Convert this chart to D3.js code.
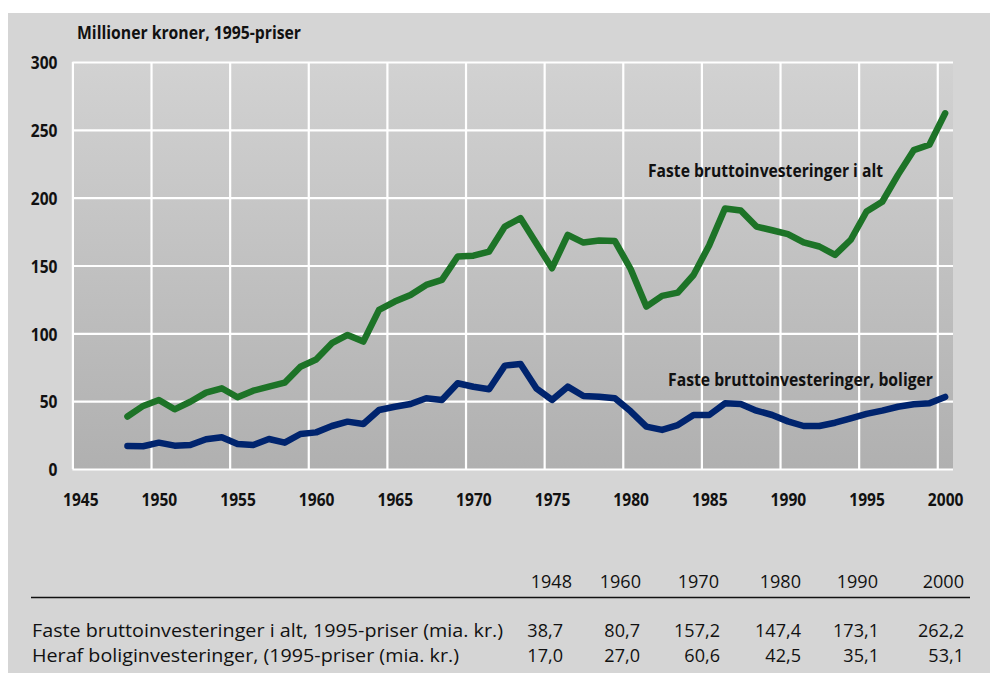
<!DOCTYPE html>
<html>
<head>
<meta charset="utf-8">
<script src="https://cdn.jsdelivr.net/npm/d3@7"></script>
<style>
body{margin:0;background:#fff}
svg text{font-family:"Open Sans",sans-serif;fill:#111}
</style>
</head>
<body>
<svg id="chart" width="997" height="673"></svg>
<script>
// data, one value per year from 1948
const firstYear = 1948
const totalInv = [38.7, 46.5, 50.9, 44.0, 49.6, 56.3, 59.5, 52.9, 57.7, 60.7,
    63.6, 75.4, 80.7, 92.7, 98.8, 93.9, 117.3, 123.4, 128.3, 135.7,
    139.4, 156.6, 157.2, 160.3, 178.7, 184.9, 166.4, 148.0, 172.6, 166.9,
    168.4, 168.0, 147.4, 119.7, 127.6, 130.0, 143.0, 165.0, 192.0, 190.5,
    178.7, 176.0, 173.1, 167.0, 164.0, 157.8, 169.0, 189.8, 197.0, 216.8,
    235.0, 239.0, 262.2]
const housingInv = [17.0, 16.8, 19.4, 17.2, 17.7, 21.9, 23.4, 18.4, 17.7, 22.1,
    19.4, 25.8, 27.0, 31.7, 34.9, 33.2, 43.5, 45.9, 47.9, 52.1,
    50.9, 63.2, 60.6, 58.8, 76.2, 77.4, 59.5, 50.9, 60.7, 53.8,
    53.3, 52.1, 42.5, 31.2, 28.8, 32.4, 39.8, 39.8, 48.4, 47.9,
    43.0, 39.8, 35.1, 31.7, 31.7, 34.1, 37.4, 40.6, 43.0, 45.9,
    47.7, 48.4, 53.1]
const xTickYears = [1945, 1950, 1955, 1960, 1965, 1970, 1975, 1980, 1985, 1990, 1995, 2000]
const yTickValues = [0, 50, 100, 150, 200, 250, 300]
const seriesNames = ['Faste bruttoinvesteringer i alt', 'Faste bruttoinvesteringer, boliger']
const yTitle = 'Millioner kroner, 1995-priser'

// table under the chart
const tableYears = ['1948', '1960', '1970', '1980', '1990', '2000']
const tableRowLabels = ['Faste bruttoinvesteringer i alt, 1995-priser (mia. kr.)',
    'Heraf boliginvesteringer, (1995-priser (mia. kr.)']
const tableTotal = ['38,7', '80,7', '157,2', '147,4', '173,1', '262,2']
const tableHousing = ['17,0', '27,0', '60,6', '42,5', '35,1', '53,1']

const svg = d3.select('#chart')
const plot = {left: 72.4, right: 953, top: 62, bottom: 469}

// squeeze text to a width, the original uses a condensed face
function fitWidth(sel, w) {
    sel.attr('textLength', w).attr('lengthAdjust', 'spacingAndGlyphs')
}
function squeeze(sel, k) {
    sel.each(function () {
        const n = this.getComputedTextLength()
        d3.select(this).attr('textLength', n * k).attr('lengthAdjust', 'spacingAndGlyphs')
    })
}

svg.append('rect').attr('x', 8).attr('y', 13).attr('width', 982).attr('height', 660).attr('fill', '#d5d5d5')

const grad = svg.append('defs').append('linearGradient')
    .attr('id', 'bg').attr('x1', 0).attr('y1', 0).attr('x2', 0).attr('y2', 1)
grad.append('stop').attr('offset', '0%').attr('stop-color', '#d2d2d2')
grad.append('stop').attr('offset', '100%').attr('stop-color', '#b0b0b0')

svg.append('rect')
    .attr('x', plot.left).attr('y', plot.top)
    .attr('width', plot.right - plot.left).attr('height', plot.bottom - plot.top)
    .attr('fill', 'url(#bg)')

const x = d3.scaleLinear().domain([1945, 2001]).range([plot.left, plot.right])
const y = d3.scaleLinear().domain([0, 300]).range([plot.bottom, plot.top])

// white grid
svg.append('g')
    .attr('transform', `translate(0,${plot.bottom})`)
    .call(d3.axisBottom(x).tickValues(xTickYears).tickSize(-(plot.bottom - plot.top)).tickFormat(''))
    .call(g => g.select('.domain').remove())
    .selectAll('line').attr('stroke', '#fff').attr('stroke-width', 2.2)
svg.append('g')
    .attr('transform', `translate(${plot.left},0)`)
    .call(d3.axisLeft(y).tickValues(yTickValues).tickSize(-(plot.right - plot.left)).tickFormat(''))
    .call(g => g.select('.domain').remove())
    .selectAll('line').attr('stroke', '#fff').attr('stroke-width', 2.2)

// tick labels
const yAx = svg.append('g')
    .attr('transform', `translate(${plot.left},0)`)
    .call(d3.axisLeft(y).tickValues(yTickValues).tickSize(0).tickPadding(15))
yAx.select('.domain').remove()
yAx.selectAll('text')
    .style('font-size', '18.5px').style('font-weight', 'bold').style('font-family', '"Open Sans",sans-serif')
    .attr('fill', '#111').attr('dy', '0.36em')
    .call(squeeze, 0.84)

const halfYear = x(1945.5) - x(1945)
const xAx = svg.append('g')
    .attr('transform', `translate(0,${plot.bottom})`)
    .call(d3.axisBottom(x).tickValues(xTickYears).tickSize(0).tickFormat(d3.format('d')))
xAx.select('.domain').remove()
xAx.selectAll('text')
    .attr('x', halfYear).attr('y', 37).attr('dy', 0)
    .style('font-size', '18.5px').style('font-weight', 'bold').style('font-family', '"Open Sans",sans-serif')
    .attr('fill', '#111')
    .call(squeeze, 0.84)

// lines, points sit in the middle of each year
const line = d3.line()
    .x((d, i) => x(firstYear + i + 0.5))
    .y(d => y(d))

svg.append('path')
    .datum(totalInv)
    .attr('d', line)
    .attr('fill', 'none')
    .attr('stroke', '#1d7327')
    .attr('stroke-width', 6.5)
    .attr('stroke-linejoin', 'round')
    .attr('stroke-linecap', 'round')

svg.append('path')
    .datum(housingInv)
    .attr('d', line)
    .attr('fill', 'none')
    .attr('stroke', '#00246e')
    .attr('stroke-width', 6.5)
    .attr('stroke-linejoin', 'round')
    .attr('stroke-linecap', 'round')

// labels
svg.append('text').attr('x', 77).attr('y', 39)
    .text(yTitle)
    .style('font-size', '17.5px').style('font-weight', 'bold')
    .call(fitWidth, 224)

svg.append('text').attr('x', 648).attr('y', 177)
    .text(seriesNames[0])
    .style('font-size', '18.5px').style('font-weight', 'bold')
    .call(fitWidth, 235)

svg.append('text').attr('x', 668).attr('y', 386)
    .text(seriesNames[1])
    .style('font-size', '18.5px').style('font-weight', 'bold')
    .call(fitWidth, 265)

// table
const colRight = [563, 640, 720, 801, 879, 964]
const headRight = [572, 641, 719, 801, 878, 964]
const tbl = svg.append('g').style('font-size', '19px')

tbl.selectAll('.head')
    .data(tableYears)
    .join('text')
    .attr('class', 'head')
    .attr('x', (d, i) => headRight[i])
    .attr('y', 588)
    .attr('text-anchor', 'end')
    .text(d => d)
    .call(squeeze, 0.95)

tbl.append('line')
    .attr('x1', 31).attr('x2', 970)
    .attr('y1', 597.5).attr('y2', 597.5)
    .attr('stroke', '#111').attr('stroke-width', 1.3)

const rowWidths = [471, 427]
const rows = [tableTotal, tableHousing]
const rowY = [637, 662]
tableRowLabels.forEach((lab, r) => {
    tbl.append('text').attr('x', 32).attr('y', rowY[r]).text(lab).call(fitWidth, rowWidths[r])
    tbl.selectAll('.row' + r)
        .data(rows[r])
        .join('text')
        .attr('class', 'row' + r)
        .attr('x', (d, i) => colRight[i])
        .attr('y', rowY[r])
        .attr('text-anchor', 'end')
        .text(d => d)
        .call(squeeze, 0.95)
})
</script>
</body>
</html>
